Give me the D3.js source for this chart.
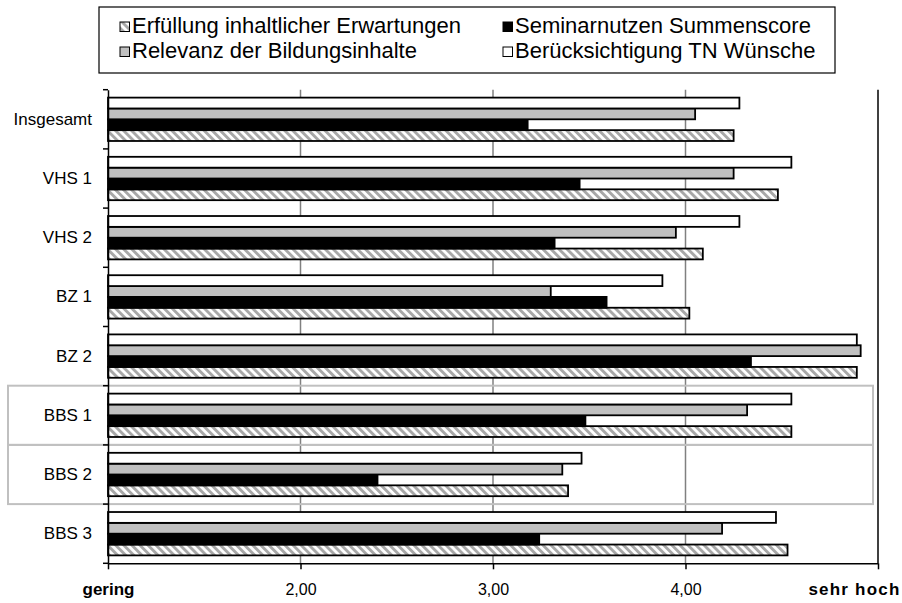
<!DOCTYPE html>
<html>
<head>
<meta charset="utf-8">
<script src="https://d3js.org/d3.v7.min.js"></script>
<style>
  body { margin: 0; background: #fff; }
  text { font-family: "Liberation Sans", Arial, sans-serif; fill: #000; }
</style>
</head>
<body>
<div id="chart"></div>
<script>
var svgWidth = 902;
var svgHeight = 603;

// categories, top to bottom
var categories = ["Insgesamt", "VHS 1", "VHS 2", "BZ 1", "BZ 2", "BBS 1", "BBS 2", "BBS 3"];

// series values (scale 1 = gering ... 5 = sehr hoch)
var erfuellung = [4.25, 4.48, 4.09, 4.02, 4.89, 4.55, 3.39, 4.53];
var seminarnutzen = [3.18, 3.45, 3.32, 3.59, 4.34, 3.48, 2.40, 3.24];
var relevanz = [4.05, 4.25, 3.95, 3.30, 4.91, 4.32, 3.36, 4.19];
var beruecksichtigung = [4.28, 4.55, 4.28, 3.88, 4.89, 4.55, 3.46, 4.47];

// x axis ticks
var tickValues = [1, 2, 3, 4, 5];
var tickLabels = ["gering", "2,00", "3,00", "4,00", "sehr hoch"];

// categories that get a grey frame
var framed = ["BBS 1", "BBS 2"];

// series in legend order
var series = [
  { key: "erfuellung", name: "Erfüllung inhaltlicher Erwartungen", values: erfuellung, fill: "url(#hatch)" },
  { key: "seminarnutzen", name: "Seminarnutzen Summenscore", values: seminarnutzen, fill: "#000" },
  { key: "relevanz", name: "Relevanz der Bildungsinhalte", values: relevanz, fill: "#c0c0c0" },
  { key: "beruecksichtigung", name: "Berücksichtigung TN Wünsche", values: beruecksichtigung, fill: "#fff" }
];

var plot = { left: 108, right: 878, top: 89.7, bottom: 563.3 };

var svg = d3.select("#chart")
  .append("svg")
  .attr("width", svgWidth)
  .attr("height", svgHeight);

// hatch pattern for the first series
var defs = svg.append("defs");
var pattern = defs.append("pattern")
  .attr("id", "hatch")
  .attr("patternUnits", "userSpaceOnUse")
  .attr("width", 5.7)
  .attr("height", 5.7)
  .attr("patternTransform", "rotate(-45)");
pattern.append("rect")
  .attr("width", 5.7)
  .attr("height", 5.7)
  .attr("fill", "#fff");
pattern.append("rect")
  .attr("width", 2.9)
  .attr("height", 5.7)
  .attr("fill", "#a8a8a8");

// scales
var x = d3.scaleLinear()
  .domain([1, 5])
  .range([plot.left, plot.right]);

var y = d3.scaleBand()
  .domain(categories)
  .range([plot.top, plot.bottom]);

// bars inside a category, top to bottom is reverse legend order
var y1 = d3.scaleBand()
  .domain(series.map(d => d.key).reverse())
  .range([0, y.bandwidth()])
  .paddingOuter(0.73);

// gridlines
svg.append("g")
  .selectAll("line")
  .data([2, 3, 4])
  .enter()
  .append("line")
  .attr("x1", d => x(d))
  .attr("x2", d => x(d))
  .attr("y1", plot.top)
  .attr("y2", plot.bottom)
  .attr("stroke", "#808080")
  .attr("stroke-width", 1.5);

// right border of plot
svg.append("line")
  .attr("x1", x(5))
  .attr("x2", x(5))
  .attr("y1", plot.top)
  .attr("y2", plot.bottom)
  .attr("stroke", "#000")
  .attr("stroke-width", 1.5);

// bars
var groups = svg.append("g")
  .selectAll("g")
  .data(categories)
  .enter()
  .append("g")
  .attr("transform", d => `translate(0, ${y(d)})`);

groups.selectAll("rect")
  .data((c, i) => series.map(s => ({ key: s.key, fill: s.fill, value: s.values[i] })))
  .enter()
  .append("rect")
  .attr("x", x(1))
  .attr("y", d => y1(d.key))
  .attr("width", d => x(d.value) - x(1))
  .attr("height", y1.bandwidth())
  .attr("fill", d => d.fill)
  .attr("stroke", "#000")
  .attr("stroke-width", 1.8);

// grey frames around BBS 1 / BBS 2
svg.append("g")
  .selectAll("rect")
  .data(framed)
  .enter()
  .append("rect")
  .attr("x", 8)
  .attr("y", d => y(d))
  .attr("width", 865)
  .attr("height", y.bandwidth())
  .attr("fill", "none")
  .attr("stroke", "#c0c0c0")
  .attr("stroke-width", 2);

// y axis: labels only, ticks sit between categories
var yAxis = svg.append("g")
  .attr("transform", `translate(${plot.left}, 0)`)
  .call(d3.axisLeft(y).tickSize(0).tickPadding(16));
yAxis.select(".domain").attr("stroke", "#000").attr("stroke-width", 1.5);
yAxis.selectAll("text")
  .style("font-size", "17px")
  .style("font-family", "'Liberation Sans', Arial, sans-serif");

svg.append("g")
  .selectAll("line")
  .data(categories.map(c => y(c)).concat([plot.bottom]))
  .enter()
  .append("line")
  .attr("x1", plot.left - 5)
  .attr("x2", plot.left)
  .attr("y1", d => d)
  .attr("y2", d => d)
  .attr("stroke", "#000")
  .attr("stroke-width", 1.5);

// x axis
var xAxis = svg.append("g")
  .attr("transform", `translate(0, ${plot.bottom})`)
  .call(d3.axisBottom(x)
    .tickValues(tickValues)
    .tickFormat((d, i) => tickLabels[i])
    .tickSize(6)
    .tickSizeOuter(0)
    .tickPadding(14));
xAxis.select(".domain").attr("stroke", "#000").attr("stroke-width", 1.5);
xAxis.selectAll(".tick line").attr("stroke", "#000").attr("stroke-width", 1.5);
xAxis.selectAll("text")
  .style("font-size", "16px")
  .style("font-family", "'Liberation Sans', Arial, sans-serif");
// end labels are bold
xAxis.selectAll("text")
  .filter((d, i) => i === 0 || i === tickValues.length - 1)
  .style("font-weight", "bold")
  .style("font-size", "17px");
// last label is pushed left so it stays inside the picture
xAxis.selectAll("text")
  .filter((d, i) => i === tickValues.length - 1)
  .attr("text-anchor", "end")
  .style("letter-spacing", "1.2px")
  .attr("x", svgWidth - 2 - x(5));

// legend
var legend = svg.append("g");
legend.append("rect")
  .attr("x", 99)
  .attr("y", 7)
  .attr("width", 736)
  .attr("height", 66)
  .attr("fill", "#fff")
  .attr("stroke", "#000")
  .attr("stroke-width", 1.2);

var legendItems = legend.selectAll(".item")
  .data(series)
  .enter()
  .append("g")
  .attr("class", "item")
  .attr("transform", (d, i) => `translate(${i % 2 === 0 ? 120 : 503}, ${i < 2 ? 22 : 47})`);

legendItems.append("rect")
  .attr("width", 9.5)
  .attr("height", 9.5)
  .attr("fill", d => d.fill)
  .attr("stroke", "#000")
  .attr("stroke-width", 1);

legendItems.append("text")
  .attr("x", 12)
  .attr("y", 11)
  .style("font-size", "22px")
  .text(d => d.name);
</script>
</body>
</html>
